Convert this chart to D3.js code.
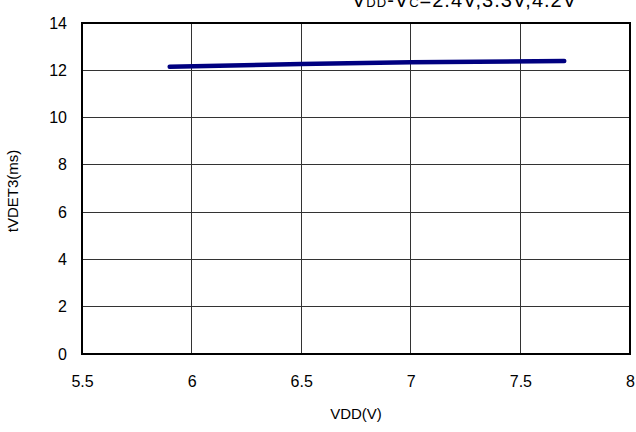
<!DOCTYPE html>
<html><head><meta charset="utf-8">
<script src="https://cdn.jsdelivr.net/npm/d3@7"></script>
<style>body{margin:0;background:#fff}svg{display:block}text{font-family:"Liberation Sans",Arial,sans-serif;fill:#000}</style>
</head><body>
<script>
const xValues = [5.9, 6.5, 7.0, 7.7];
const yValues = [12.15, 12.27, 12.34, 12.39];
const xTicks = [5.5, 6, 6.5, 7, 7.5, 8];
const yTicks = [0, 2, 4, 6, 8, 10, 12, 14];
const xLabel = "VDD(V)";
const yLabel = "tVDET3(ms)";

const W = 636, H = 432;
const m = {left: 82, right: 6, top: 23, bottom: 78};
const FONT = '"Liberation Sans",Arial,sans-serif';
const svg = d3.select("body").append("svg").attr("width", W).attr("height", H);
const x = d3.scaleLinear().domain([5.5, 8]).range([m.left, W - m.right]);
const y = d3.scaleLinear().domain([0, 14]).range([H - m.bottom, m.top]);

// grid
svg.append("g").selectAll("line").data(xTicks.slice(1, -1)).join("line")
  .attr("x1", d => x(d)).attr("x2", d => x(d)).attr("y1", y(0)).attr("y2", y(14))
  .attr("stroke", "#333").attr("stroke-width", 1).attr("shape-rendering", "crispEdges");
svg.append("g").selectAll("line").data(yTicks.slice(1, -1)).join("line")
  .attr("x1", x(5.5)).attr("x2", x(8)).attr("y1", d => y(d)).attr("y2", d => y(d))
  .attr("stroke", "#333").attr("stroke-width", 1).attr("shape-rendering", "crispEdges");
svg.append("rect").attr("x", x(5.5)).attr("y", y(14)).attr("width", x(8) - x(5.5)).attr("height", y(0) - y(14))
  .attr("fill", "none").attr("stroke", "#000").attr("stroke-width", 1.3).attr("shape-rendering", "crispEdges");

// axes
const xa = svg.append("g").attr("transform", `translate(0,${y(0)})`)
  .call(d3.axisBottom(x).tickValues(xTicks).tickSize(0).tickPadding(22).tickFormat(d => d3.format("")(d)));
const ya = svg.append("g").attr("transform", `translate(${x(5.5)},0)`)
  .call(d3.axisLeft(y).tickValues(yTicks).tickSize(0).tickPadding(15));
[xa, ya].forEach(a => { a.select(".domain").remove(); a.selectAll("text").attr("font-size", 16).style("font-family", FONT); });

// line
svg.append("path").datum(xValues.map((v, i) => [v, yValues[i]]))
  .attr("d", d3.line().x(d => x(d[0])).y(d => y(d[1])))
  .attr("fill", "none").attr("stroke", "#000080").attr("stroke-width", 4.5).attr("stroke-linecap", "round");

// labels
svg.append("text").attr("x", 356).attr("y", 419).attr("text-anchor", "middle").attr("font-size", 15).text(xLabel);
svg.append("text").attr("transform", `translate(18,191) rotate(-90)`).attr("text-anchor", "middle").attr("font-size", 15).text(yLabel);

// title
const t = svg.append("text").attr("x", 352).attr("y", 7).attr("font-size", 20).attr("letter-spacing", 1);
t.append("tspan").text("V");
t.append("tspan").attr("font-size", 13).text("DD");
t.append("tspan").text("-V");
t.append("tspan").attr("font-size", 13).text("C");
t.append("tspan").text("=2.4V,3.3V,4.2V");
</script>
</body></html>
